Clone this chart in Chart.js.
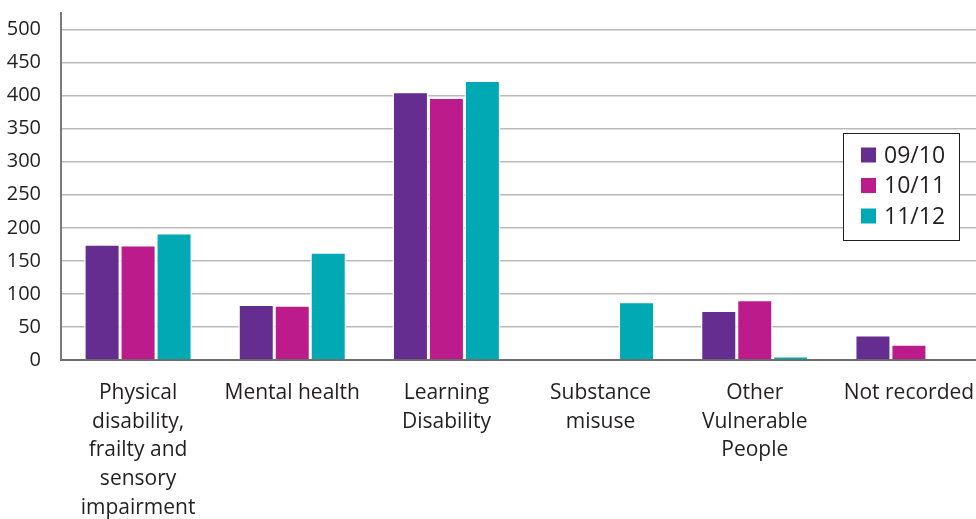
<!DOCTYPE html>
<html>
<head>
<meta charset="utf-8">
<script src="https://cdn.jsdelivr.net/npm/chart.js@4/dist/chart.umd.min.js"></script>
<style>
  html, body { margin: 0; padding: 0; background: #fff; overflow: hidden; }
  #wrap { width: 976px; height: 519px; overflow: hidden; }
</style>
</head>
<body>
<div id="wrap"><canvas id="chart" width="988" height="519"></canvas></div>
<script>
// ============================
// DATA
// ============================
const categories = [
  ["Physical", "disability,", "frailty and", "sensory", "impairment"],
  "Mental health",
  ["Learning", "Disability"],
  ["Substance", "misuse"],
  ["Other", "Vulnerable", "People"],
  "Not recorded"
];
const years = ["09/10", "10/11", "11/12"];
const values0910 = [175, 84, 406, 0, 75, 38];
const values1011 = [174, 83, 397, 0, 91, 24];
const values1112 = [192, 163, 423, 88, 6, 0];
const yTicks = [0, 50, 100, 150, 200, 250, 300, 350, 400, 450, 500];

const colors = ["#662d91", "#bc1c8b", "#00a9b4"];
const FONT = "'Open Sans', 'DejaVu Sans', sans-serif";
const TEXT = "#231f20";

// ============================
// LEGEND (boxed, inside plot)
// ============================
const boxLegend = {
  id: "boxLegend",
  afterDraw(chart){
    const ctx = chart.ctx;
    const area = chart.chartArea;
    const w = 116, h = 107;
    const x = area.right - 27 - w;
    const y = area.top + 120;

    ctx.save();
    ctx.fillStyle = "#fff";
    ctx.fillRect(x, y, w, h);
    ctx.strokeStyle = "#231f20";
    ctx.lineWidth = 1;
    ctx.strokeRect(x + 0.5, y + 0.5, w, h);

    ctx.font = "23px " + FONT;
    ctx.textBaseline = "middle";
    ctx.textAlign = "left";
    chart.data.datasets.forEach((ds, i) => {
      const cy = y + 22 + i * 30.5;
      ctx.fillStyle = ds.backgroundColor;
      ctx.fillRect(x + 18, cy - 7.5, 15, 15);
      ctx.fillStyle = TEXT;
      ctx.fillText(ds.label, x + 41, cy + 1);
    });
    ctx.restore();
  }
};

// ============================
// CHART
// ============================
const series = [values0910, values1011, values1112];

new Chart(document.getElementById("chart"), {
  type: "bar",
  data: {
    labels: categories,
    datasets: years.map((y, i) => ({
      label: y,
      data: series[i],
      backgroundColor: colors[i],
      borderColor: "#ffffff",
      borderWidth: 1.5,
      borderSkipped: "bottom",
      barPercentage: 1.0,
      categoryPercentage: 0.70
    }))
  },
  options: {
    responsive: false,
    devicePixelRatio: 1,
    animation: false,
    layout: { padding: { top: 13, right: 2, bottom: 0, left: 0 } },
    plugins: {
      legend: { display: false },
      tooltip: { enabled: false }
    },
    scales: {
      x: {
        grid: { display: false, drawTicks: false },
        border: { display: true, color: "#6d6d6d", width: 2 },
        ticks: {
          color: TEXT,
          font: { family: FONT, size: 21, lineHeight: 1.36 },
          padding: 19,
          maxRotation: 0,
          autoSkip: false
        },
        afterFit: s => { s.height = 159; s.paddingLeft = 0; s.paddingRight = 0; }
      },
      y: {
        min: 0,
        max: 525,
        afterBuildTicks: s => { s.ticks = yTicks.map(v => ({ value: v })); },
        grid: {
          drawTicks: false,
          color: c => c.tick && c.tick.value === 0 ? "rgba(0,0,0,0)" : "#b9b9b9",
          lineWidth: 1.5
        },
        border: { display: true, color: "#7a7a7a", width: 2 },
        ticks: {
          color: TEXT,
          font: { family: FONT, size: 20 },
          padding: 20
        },
        afterFit: s => { s.width = 61; s.paddingTop = 0; s.paddingBottom = 0; }
      }
    }
  },
  plugins: [boxLegend]
});
</script>
</body>
</html>
